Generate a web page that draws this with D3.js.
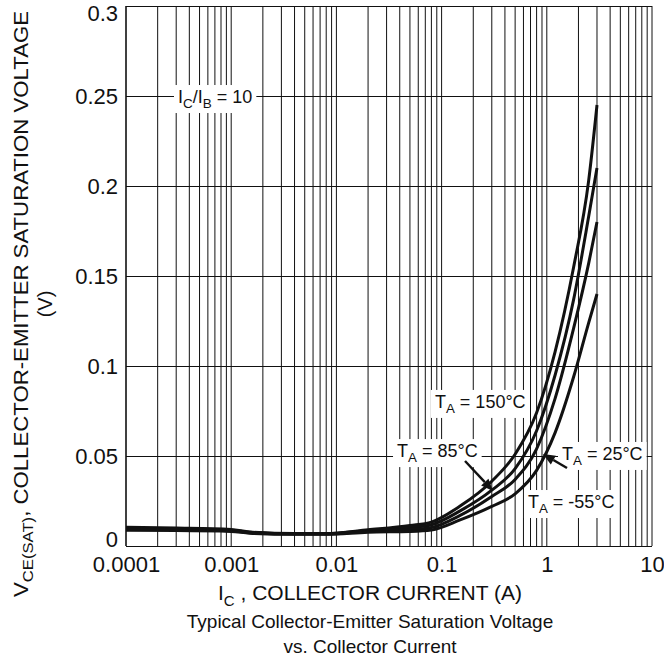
<!DOCTYPE html>
<html>
<head>
<meta charset="utf-8">
<script src="https://cdn.jsdelivr.net/npm/d3@7"></script>
<style>
  html, body { margin: 0; padding: 0; background: #fff; }
  svg { display: block; font-family: "Liberation Sans", Arial, Helvetica, sans-serif; }
</style>
</head>
<body>
<svg id="chart" width="664" height="660"></svg>
<script>
// Collector current samples (A) and V_CE(sat) in volts for each ambient temperature
const currents = [0.0001, 0.0003, 0.001, 0.0015, 0.004, 0.008, 0.02, 0.05, 0.08, 0.15, 0.3, 0.5, 0.8, 1.2, 1.8, 2.5, 3];
const vsat150 = [0.0104, 0.0100, 0.0092, 0.0078, 0.0069, 0.0069, 0.0090, 0.0114, 0.0133, 0.0222, 0.036, 0.051, 0.074, 0.108, 0.155, 0.203, 0.245];
const vsat85  = [0.0098, 0.0095, 0.0088, 0.0076, 0.0068, 0.0068, 0.0086, 0.0103, 0.0118, 0.0195, 0.031, 0.043, 0.064, 0.095, 0.137, 0.183, 0.210];
const vsat25  = [0.0093, 0.0091, 0.0085, 0.0074, 0.0067, 0.0067, 0.0082, 0.0092, 0.0103, 0.0170, 0.0275, 0.037, 0.054, 0.082, 0.121, 0.157, 0.180];
const vsatM55 = [0.0087, 0.0086, 0.0081, 0.0071, 0.0065, 0.0065, 0.0077, 0.0081, 0.0089, 0.0145, 0.022, 0.029, 0.042, 0.063, 0.094, 0.124, 0.140];

// Axis ticks
const xTickValues = [0.0001, 0.001, 0.01, 0.1, 1, 10];
const xTickLabels = ["0.0001", "0.001", "0.01", "0.1", "1", "10"];
const yTickValues = [0, 0.05, 0.1, 0.15, 0.2, 0.25, 0.3];
const yTickLabels = ["0", "0.05", "0.1", "0.15", "0.2", "0.25", "0.3"];

// Annotations in data units: [current, voltage]
const tempLabelTemps = ["150", "85", "25", "-55"];
const tempLabelAt = [[0.0865, 0.0767], [0.0377, 0.0494], [1.395, 0.0478], [0.662, 0.0211]];
const arrowFrom = [[0.167, 0.0472], [1.556, 0.0433]];
const arrowTo   = [[0.308, 0.0306], [0.92, 0.0511]];
const ratioLabelAt = [0.000312, 0.2461];

const svg = d3.select("#chart");
const plotLeft = 126, plotRight = 652, plotTop = 6, plotBottom = 546;

const x = d3.scaleLog().domain([0.0001, 10]).range([plotLeft, plotRight]);
const y = d3.scaleLinear().domain([0, 0.3]).range([plotBottom, plotTop]);

// Vertical log grid (1..9 per decade)
const gridX = [];
for (let e = -4; e < 1; e++) {
  for (let k = 1; k <= 9; k++) gridX.push(k * Math.pow(10, e));
}
gridX.push(10);

const grid = svg.append("g");
grid.selectAll("line.v").data(gridX).join("line")
  .attr("class", "v")
  .attr("x1", d => x(d)).attr("x2", d => x(d))
  .attr("y1", plotTop).attr("y2", plotBottom)
  .attr("stroke", "#111").attr("stroke-width", 1);

grid.selectAll("line.h").data(yTickValues).join("line")
  .attr("class", "h")
  .attr("x1", plotLeft).attr("x2", plotRight)
  .attr("y1", d => y(d)).attr("y2", d => y(d))
  .attr("stroke", "#111").attr("stroke-width", 1)
  .attr("shape-rendering", "crispEdges");

// Left frame edge
svg.append("line")
  .attr("x1", plotLeft).attr("x2", plotLeft).attr("y1", plotTop).attr("y2", plotBottom)
  .attr("stroke", "#111").attr("stroke-width", 1.2);

// Axes (labels only)
const xAxis = d3.axisBottom(x).tickValues(xTickValues)
  .tickFormat((d, i) => xTickLabels[i]).tickSize(0).tickPadding(10);
const gx = svg.append("g").attr("transform", `translate(0,${plotBottom})`).call(xAxis);
gx.select(".domain").remove();
gx.selectAll("text").attr("font-size", 22).attr("fill", "#111")
  .attr("font-family", "'Liberation Sans', Arial, sans-serif");

const yAxis = d3.axisLeft(y).tickValues(yTickValues)
  .tickFormat((d, i) => yTickLabels[i]).tickSize(0).tickPadding(8);
const gy = svg.append("g").attr("transform", `translate(${plotLeft},0)`).call(yAxis);
gy.select(".domain").remove();
// end labels sit slightly inside the frame so they clear the corner
gy.selectAll("text").attr("font-size", 22).attr("fill", "#111")
  .attr("font-family", "'Liberation Sans', Arial, sans-serif")
  .attr("dy", d => d === 0 ? "0.02em" : d === 0.3 ? "0.66em" : "0.32em");

// Curves
const allSeries = [vsat150, vsat85, vsat25, vsatM55];
const line = d3.line()
  .x(d => x(d[0])).y(d => y(d[1]))
  .curve(d3.curveMonotoneX);
svg.append("g").selectAll("path").data(allSeries).join("path")
  .attr("d", vals => line(currents.map((c, i) => [c, vals[i]])))
  .attr("fill", "none").attr("stroke", "#111").attr("stroke-width", 3)
  .attr("stroke-linejoin", "round");

// Label helper: text with a subscript and a white backing box
function boxedLabel(g, px, py, main, sub, rest, size) {
  const grp = g.append("g");
  const rect = grp.append("rect").attr("fill", "#fff");
  const t = grp.append("text").attr("x", px).attr("y", py)
    .attr("font-size", size).attr("fill", "#111");
  t.append("tspan").text(main);
  t.append("tspan").attr("font-size", size * 0.74).attr("dy", 5).text(sub);
  t.append("tspan").attr("dy", -5).text(rest);
  const bb = t.node().getBBox();
  rect.attr("x", bb.x - 4).attr("y", bb.y - 2)
    .attr("width", bb.width + 8).attr("height", bb.height + 4);
  return t;
}

const ann = svg.append("g");

// I_C / I_B ratio label
{
  const grp = ann.append("g");
  const rect = grp.append("rect").attr("fill", "#fff");
  const t = grp.append("text").attr("x", x(ratioLabelAt[0])).attr("y", y(ratioLabelAt[1]))
    .attr("font-size", 18).attr("fill", "#111");
  t.append("tspan").text("I");
  t.append("tspan").attr("font-size", 13.5).attr("dy", 5).text("C");
  t.append("tspan").attr("dy", -5).text("/I");
  t.append("tspan").attr("font-size", 13.5).attr("dy", 5).text("B");
  t.append("tspan").attr("dy", -5).text(" = 10");
  const bb = t.node().getBBox();
  rect.attr("x", bb.x - 4).attr("y", bb.y - 2).attr("width", bb.width + 8).attr("height", bb.height + 4);
}

// Temperature labels
tempLabelTemps.forEach((temp, i) => {
  boxedLabel(ann, x(tempLabelAt[i][0]), y(tempLabelAt[i][1]), "T", "A", ` = ${temp}°C`, 18);
});

// Pointer arrows
function arrow(g, from, to) {
  const x1 = x(from[0]), y1 = y(from[1]), x2 = x(to[0]), y2 = y(to[1]);
  const ang = Math.atan2(y2 - y1, x2 - x1);
  const len = 12, half = 5;
  const bx = x2 - len * Math.cos(ang), by = y2 - len * Math.sin(ang);
  g.append("line").attr("x1", x1).attr("y1", y1).attr("x2", bx).attr("y2", by)
    .attr("stroke", "#111").attr("stroke-width", 2.4);
  const px = -Math.sin(ang), py = Math.cos(ang);
  g.append("path")
    .attr("d", `M${x2},${y2}L${bx + half * px},${by + half * py}L${bx - half * px},${by - half * py}Z`)
    .attr("fill", "#111");
}
arrowFrom.forEach((f, i) => arrow(ann, f, arrowTo[i]));

// Axis titles
const xt = svg.append("text").attr("x", 370).attr("y", 600)
  .attr("text-anchor", "middle").attr("font-size", 21).attr("fill", "#111");
xt.append("tspan").text("I");
xt.append("tspan").attr("font-size", 15).attr("dy", 6).text("C");
xt.append("tspan").attr("dy", -6).text(" , COLLECTOR CURRENT (A)");

svg.append("text").attr("x", 370).attr("y", 628)
  .attr("text-anchor", "middle").attr("font-size", 19).attr("fill", "#111")
  .text("Typical Collector-Emitter Saturation Voltage");
svg.append("text").attr("x", 370).attr("y", 653)
  .attr("text-anchor", "middle").attr("font-size", 19).attr("fill", "#111")
  .text("vs. Collector Current");

const yt = svg.append("text")
  .attr("transform", "translate(28,304) rotate(-90)")
  .attr("text-anchor", "middle").attr("font-size", 20).attr("fill", "#111")
  .attr("textLength", 586).attr("lengthAdjust", "spacingAndGlyphs");
yt.append("tspan").text("V");
yt.append("tspan").attr("font-size", 15).attr("dy", 5).text("CE(SAT)");
yt.append("tspan").attr("dy", -5).text(", COLLECTOR-EMITTER SATURATION VOLTAGE");

svg.append("text")
  .attr("transform", "translate(52,304) rotate(-90)")
  .attr("text-anchor", "middle").attr("font-size", 20).attr("fill", "#111")
  .text("(V)");
</script>
</body>
</html>
